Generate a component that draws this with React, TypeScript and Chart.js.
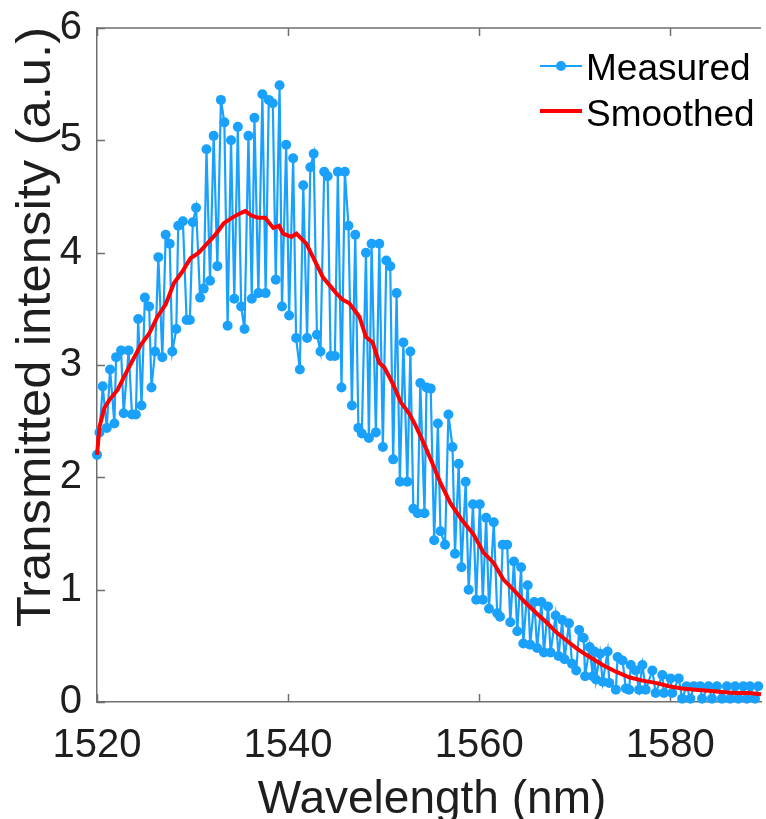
import React, { useEffect, useRef } from "react";
import { Chart, registerables } from "chart.js";

Chart.register(...registerables);

const seriesLabels = ["Measured", "Smoothed"];
const xAxisTitle = "Wavelength (nm)";
const yAxisTitle = "Transmitted intensity (a.u.)";
const xTickStep = 20;
const yTickStep = 1;

const measuredWavelength = [
  1520.00, 1520.26, 1520.60, 1521.02, 1521.37, 1521.82, 1522.00, 1522.52, 1522.79, 1523.31,
  1523.66, 1524.07, 1524.31, 1524.66, 1525.01, 1525.46, 1525.70, 1526.08, 1526.42, 1526.84,
  1527.19, 1527.61, 1527.88, 1528.30, 1528.50, 1528.99, 1529.38, 1529.72, 1530.03, 1530.37,
  1530.79, 1531.17, 1531.46, 1531.83, 1532.21, 1532.60, 1532.97, 1533.33, 1533.67, 1534.03,
  1534.37, 1534.74, 1535.09, 1535.44, 1535.85, 1536.20, 1536.48, 1536.89, 1537.31, 1537.65,
  1537.98, 1538.40, 1538.71, 1539.11, 1539.36, 1539.80, 1540.11, 1540.53, 1540.84, 1541.23,
  1541.59, 1541.99, 1542.33, 1542.68, 1543.02, 1543.39, 1543.78, 1544.14, 1544.45, 1544.90,
  1545.21, 1545.59, 1545.94, 1546.32, 1546.68, 1547.03, 1547.36, 1547.72, 1548.15, 1548.46,
  1548.74, 1549.19, 1549.55, 1549.92, 1550.28, 1550.69, 1551.00, 1551.36, 1551.70, 1552.07,
  1552.48, 1552.80, 1553.11, 1553.56, 1553.84, 1554.28, 1554.49, 1554.93, 1555.29, 1555.68,
  1555.95, 1556.43, 1556.78, 1557.21, 1557.47, 1557.86, 1558.15, 1558.59, 1558.90, 1559.35,
  1559.69, 1560.07, 1560.38, 1560.73, 1561.03, 1561.53, 1561.89, 1562.18, 1562.46, 1562.93,
  1563.26, 1563.64, 1563.99, 1564.39, 1564.62, 1565.08, 1565.34, 1565.77, 1566.07, 1566.52,
  1566.78, 1567.21, 1567.48, 1568.00, 1568.31, 1568.70, 1568.94, 1569.40, 1569.72, 1570.16,
  1570.47, 1570.94, 1571.09, 1571.56, 1571.89, 1572.06, 1572.23, 1572.65, 1572.93, 1573.45,
  1573.62, 1574.31, 1574.49, 1575.01, 1575.35, 1575.70, 1575.87, 1576.39, 1576.74, 1577.09,
  1577.43, 1578.13, 1578.47, 1579.17, 1579.34, 1580.03, 1580.21, 1580.89, 1581.25, 1581.70,
  1582.11, 1582.46, 1583.15, 1583.33, 1584.01, 1584.37, 1584.89, 1585.41, 1585.93, 1586.27,
  1586.79, 1587.13, 1587.65, 1588.01, 1588.35, 1588.87, 1589.21,
];

const measuredIntensity = [
  2.20, 2.40, 2.81, 2.44, 2.96, 2.48, 3.07, 3.13, 2.57, 3.13,
  2.56, 2.56, 3.41, 2.64, 3.60, 3.52, 2.80, 3.12, 3.96, 3.07,
  4.16, 4.08, 3.12, 3.32, 4.24, 4.28, 3.40, 3.40, 4.27, 4.40,
  3.60, 3.68, 4.92, 3.75, 5.04, 3.88, 5.36, 5.16, 3.35, 5.00,
  3.59, 5.12, 3.52, 3.32, 5.04, 3.59, 5.20, 3.64, 5.41, 3.64,
  5.36, 5.33, 3.76, 5.49, 3.52, 4.96, 3.44, 4.84, 3.24, 2.96,
  4.60, 3.24, 4.76, 4.88, 3.27, 3.12, 4.72, 4.68, 3.08, 3.08,
  4.72, 2.80, 4.72, 4.24, 2.64, 4.16, 2.44, 2.39, 4.00, 2.35,
  4.08, 2.40, 4.08, 2.27, 3.93, 3.88, 2.16, 3.64, 1.96, 3.20,
  1.96, 3.12, 1.72, 1.68, 2.84, 1.68, 2.80, 2.79, 1.44, 2.48,
  1.52, 1.40, 2.56, 2.27, 1.32, 2.12, 1.20, 1.96, 1.00, 1.76,
  0.91, 1.76, 0.91, 1.64, 0.83, 1.60, 0.79, 0.76, 1.40, 1.40,
  0.71, 1.25, 0.63, 1.20, 0.52, 1.04, 0.51, 0.89, 0.48, 0.89,
  0.44, 0.85, 0.44, 0.77, 0.41, 0.73, 0.38, 0.70, 0.34, 0.28,
  0.64, 0.57, 0.23, 0.49, 0.23, 0.45, 0.20, 0.43, 0.18, 0.45,
  0.17, 0.11, 0.40, 0.37, 0.12, 0.11, 0.33, 0.28, 0.11, 0.33,
  0.11, 0.28, 0.08, 0.24, 0.08, 0.21, 0.08, 0.21, 0.03, 0.14,
  0.03, 0.14, 0.14, 0.03, 0.14, 0.03, 0.14, 0.03, 0.14, 0.03,
  0.14, 0.03, 0.14, 0.03, 0.14, 0.03, 0.14,
];

const smoothedWavelength = [
  1520.00, 1520.26, 1520.78, 1521.30, 1522.16, 1523.04, 1523.72, 1524.59, 1525.46, 1526.32,
  1527.19, 1528.06, 1528.92, 1529.79, 1530.65, 1531.52, 1532.39, 1533.25, 1534.12, 1534.99,
  1535.51, 1536.20, 1536.89, 1537.59, 1538.45, 1539.04, 1539.49, 1540.35, 1540.87, 1541.91,
  1542.79, 1543.65, 1545.03, 1545.73, 1546.42, 1547.46, 1548.15, 1548.85, 1549.54, 1550.06,
  1550.93, 1551.79, 1552.66, 1553.35, 1554.22, 1555.08, 1555.95, 1556.99, 1558.20, 1559.42,
  1560.46, 1561.50, 1562.54, 1563.58, 1564.78, 1566.00, 1567.04, 1568.08, 1569.12, 1570.16,
  1571.20, 1572.93, 1574.31, 1575.70, 1577.09, 1578.47, 1579.86, 1581.25, 1582.64, 1584.01,
  1585.41, 1586.79, 1588.17, 1589.50,
];

const smoothedIntensity = [
  2.20, 2.45, 2.62, 2.69, 2.78, 2.93, 3.04, 3.18, 3.28, 3.43,
  3.54, 3.73, 3.83, 3.95, 4.00, 4.08, 4.16, 4.26, 4.31, 4.35,
  4.37, 4.33, 4.31, 4.31, 4.22, 4.24, 4.17, 4.14, 4.17, 4.08,
  3.93, 3.78, 3.64, 3.58, 3.55, 3.43, 3.25, 3.20, 3.02, 2.98,
  2.84, 2.67, 2.57, 2.46, 2.30, 2.13, 1.95, 1.77, 1.62, 1.49,
  1.33, 1.24, 1.09, 1.00, 0.89, 0.79, 0.71, 0.62, 0.55, 0.48,
  0.42, 0.33, 0.27, 0.22, 0.19, 0.17, 0.14, 0.12, 0.11, 0.10,
  0.09, 0.08, 0.08, 0.07,
];

const BLUE = "rgb(26,161,252)";
const RED = "rgb(255,0,0)";
const AXIS = "#6f6f6f";
const TEXT = "#1e1e1e";
const FONT = "'Liberation Sans', Arial, Helvetica, sans-serif";

const matlabPlugin = {
  id: "matlabAxes",
  beforeDatasetsDraw(chart: any) {
    const { ctx, chartArea: a, scales } = chart;
    ctx.save();
    ctx.strokeStyle = AXIS;
    ctx.lineWidth = 1.5;
    ctx.beginPath();
    ctx.moveTo(a.left, a.top);
    ctx.lineTo(a.right, a.top);
    scales.x.ticks.forEach((t: any) => {
      const px = Math.round(scales.x.getPixelForValue(t.value)) + 0.5;
      ctx.moveTo(px, a.bottom);
      ctx.lineTo(px, a.bottom - 8);
      ctx.moveTo(px, a.top);
      ctx.lineTo(px, a.top + 8);
    });
    scales.y.ticks.forEach((t: any) => {
      const py = Math.round(scales.y.getPixelForValue(t.value)) + 0.5;
      ctx.moveTo(a.left, py);
      ctx.lineTo(a.left + 8, py);
    });
    ctx.stroke();
    ctx.restore();
  },
  afterDraw(chart: any) {
    const { ctx } = chart;
    ctx.save();
    ctx.fillStyle = TEXT;
    // y title
    ctx.save();
    ctx.font = `48px ${FONT}`;
    ctx.textAlign = "center";
    ctx.textBaseline = "alphabetic";
    ctx.translate(50, 327);
    ctx.rotate(-Math.PI / 2);
    ctx.scale(1.06, 1);
    ctx.fillText(yAxisTitle, 0, 0);
    ctx.restore();
    // x title
    ctx.save();
    ctx.font = `46px ${FONT}`;
    ctx.textAlign = "center";
    ctx.textBaseline = "alphabetic";
    ctx.fillText(xAxisTitle, 432, 813);
    ctx.restore();
    // legend
    const lx0 = 540, lx1 = 582, tx = 586;
    const rows = [
      { y: 66, color: BLUE, width: 2.2, dot: true, label: seriesLabels[0], base: 80 },
      { y: 111, color: RED, width: 4, dot: false, label: seriesLabels[1], base: 126 },
    ];
    rows.forEach((r) => {
      ctx.strokeStyle = r.color;
      ctx.lineWidth = r.width;
      ctx.beginPath();
      ctx.moveTo(lx0, r.y);
      ctx.lineTo(lx1, r.y);
      ctx.stroke();
      if (r.dot) {
        ctx.fillStyle = r.color;
        ctx.beginPath();
        ctx.arc((lx0 + lx1) / 2, r.y, 5, 0, Math.PI * 2);
        ctx.fill();
      }
      ctx.fillStyle = "#000";
      ctx.font = `37px ${FONT}`;
      ctx.textAlign = "left";
      ctx.textBaseline = "alphabetic";
      ctx.fillText(r.label, tx, r.base);
    });
    ctx.restore();
  },
};

export default function App() {
  const ref = useRef<HTMLCanvasElement>(null);
  useEffect(() => {
    const canvas = ref.current;
    if (!canvas) return;
    const measuredPoints = measuredWavelength.map((x, i) => ({ x, y: measuredIntensity[i] }));
    const smoothedPoints = smoothedWavelength.map((x, i) => ({ x, y: smoothedIntensity[i] }));
    const chart = new Chart(canvas, {
      type: "line",
      data: {
        datasets: [
          {
            label: seriesLabels[1],
            data: smoothedPoints,
            borderColor: RED,
            backgroundColor: RED,
            borderWidth: 4,
            pointRadius: 0,
            tension: 0,
            order: 0,
            clip: false,
          },
          {
            label: seriesLabels[0],
            data: measuredPoints,
            borderColor: BLUE,
            backgroundColor: BLUE,
            borderWidth: 2.2,
            pointRadius: 5,
            pointBorderWidth: 0,
            pointBackgroundColor: BLUE,
            tension: 0,
            order: 1,
            clip: false,
          },
        ],
      },
      options: {
        responsive: false,
        animation: false,
        devicePixelRatio: 1,
        layout: { padding: { top: 28, left: 0, right: 0, bottom: 0 } },
        plugins: { legend: { display: false }, tooltip: { enabled: false } },
        scales: {
          x: {
            type: "linear",
            min: 1520,
            max: 1589.5,
            afterFit: (s: any) => {
              s.height = 117;
              s.paddingLeft = 0;
              s.paddingRight = 0;
            },
            grid: { display: false, drawTicks: false },
            border: { display: true, color: AXIS, width: 1.5 },
            ticks: {
              stepSize: xTickStep,
              includeBounds: false,
              autoSkip: false,
              maxRotation: 0,
              padding: 20,
              color: TEXT,
              font: { family: FONT, size: 40 },
              callback: (v: any) => String(v),
            },
          },
          y: {
            type: "linear",
            min: 0,
            max: 6,
            afterFit: (s: any) => {
              s.width = 97;
              s.paddingTop = 0;
              s.paddingBottom = 0;
            },
            grid: { display: false, drawTicks: false },
            border: { display: true, color: AXIS, width: 1.5 },
            ticks: {
              stepSize: yTickStep,
              padding: 15,
              color: TEXT,
              font: { family: FONT, size: 40 },
              callback: (v: any) => String(v),
            },
          },
        },
      },
      plugins: [matlabPlugin],
    } as any);
    return () => chart.destroy();
  }, []);
  return (
    <div style={{ position: "fixed", left: 0, top: 0, width: 766, height: 819, background: "#fff" }}>
      <canvas ref={ref} width={766} height={819} style={{ display: "block" }} />
    </div>
  );
}
